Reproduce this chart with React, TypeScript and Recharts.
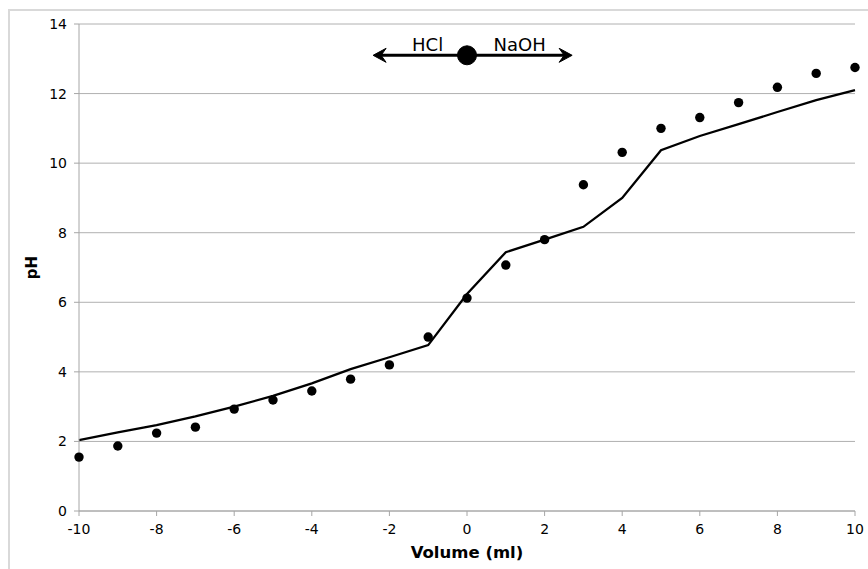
import React from "react";
import {
  ComposedChart,
  Line,
  Scatter,
  XAxis,
  YAxis,
  CartesianGrid,
  ReferenceLine,
  ReferenceDot,
} from "recharts";

const volumes = [-10, -9, -8, -7, -6, -5, -4, -3, -2, -1, 0, 1, 2, 3, 4, 5, 6, 7, 8, 9, 10];
const phMeasured = [1.55, 1.87, 2.24, 2.41, 2.93, 3.19, 3.45, 3.79, 4.2, 5.0, 6.12, 7.07, 7.8, 9.38, 10.31, 11.0, 11.31, 11.74, 12.18, 12.58, 12.75];
const phModel = [2.04, 2.26, 2.47, 2.72, 3.0, 3.31, 3.67, 4.08, 4.42, 4.77, 6.24, 7.44, 7.8, 8.17, 9.0, 10.37, 10.78, 11.12, 11.47, 11.81, 12.1];
const xTicks = [-10, -8, -6, -4, -2, 0, 2, 4, 6, 8, 10];
const yTicks = [0, 2, 4, 6, 8, 10, 12, 14];
const arrowY = 13.1;
const arrowLeft = -2.42;
const arrowRight = 2.71;

const data = volumes.map((v, i) => ({ v, measured: phMeasured[i], model: phModel[i] }));

const FONT = "'DejaVu Sans', Verdana, sans-serif";

const Dot = (props: any) => {
  const { cx, cy } = props;
  if (cx == null || cy == null) return null;
  return <circle cx={cx} cy={cy} r={4.7} fill="#000" />;
};

const ArrowShape = (props: any) => {
  const { x1, y1, x2 } = props;
  if (x1 == null) return null;
  const y = y1;
  const left = Math.min(x1, x2);
  const right = Math.max(x1, x2);
  const mid = (left + right) / 2;
  return (
    <g>
      <line x1={left + 4} y1={y} x2={right - 4} y2={y} stroke="#000" strokeWidth={3} />
      <path
        d={`M ${left} ${y} L ${left + 13} ${y - 7} L ${left + 8} ${y} L ${left + 13} ${y + 7} Z`}
        fill="#000"
        stroke="#000"
        strokeWidth={1}
        strokeLinejoin="miter"
      />
      <path
        d={`M ${right} ${y} L ${right - 13} ${y - 7} L ${right - 8} ${y} L ${right - 13} ${y + 7} Z`}
        fill="#000"
        stroke="#000"
        strokeWidth={1}
        strokeLinejoin="miter"
      />
      <text x={mid - 45} y={y - 4} textAnchor="middle" fontFamily={FONT} fontSize={18} fill="#000">
        HCl
      </text>
      <text x={mid + 47} y={y - 4} textAnchor="middle" fontFamily={FONT} fontSize={18} fill="#000">
        NaOH
      </text>
    </g>
  );
};

export default function App() {
  return (
    <div style={{ position: "absolute", left: 0, top: 0, width: 868, height: 569, background: "#fff", overflow: "hidden" }}>
      <div
        style={{
          position: "absolute",
          left: 8,
          top: 9,
          width: 880,
          height: 580,
          border: "2px solid #d9d9d9",
        }}
      />
      <div style={{ position: "absolute", left: 0, top: 0 }}>
        <ComposedChart
          width={868}
          height={569}
          data={data}
          margin={{ top: 24, right: 13, bottom: 0, left: 0 }}
        >
          <CartesianGrid horizontal={true} vertical={false} stroke="#b0b0b0" strokeWidth={1} />
          <XAxis
            dataKey="v"
            type="number"
            domain={[-10, 10]}
            ticks={xTicks}
            interval={0}
            height={58}
            stroke="#a6a6a6"
            tickSize={5}
            tickMargin={8}
            tick={{ fill: "#000", fontSize: 14, fontFamily: FONT }}
            label={{
              value: "Volume (ml)",
              position: "insideBottom",
              offset: 11,
              style: { fill: "#000", fontSize: 16.5, fontWeight: "bold", fontFamily: FONT },
            }}
          />
          <YAxis
            type="number"
            domain={[0, 14]}
            ticks={yTicks}
            interval={0}
            width={79}
            stroke="#a6a6a6"
            tickSize={5}
            tickMargin={7}
            tick={{ fill: "#000", fontSize: 14, fontFamily: FONT }}
            label={{
              value: "pH",
              angle: -90,
              position: "insideLeft",
              offset: 32,
              style: { fill: "#000", fontSize: 15, fontWeight: "bold", fontFamily: FONT, textAnchor: "middle" },
            }}
          />
          <Line
            dataKey="model"
            type="linear"
            stroke="#000"
            strokeWidth={2.3}
            dot={false}
            activeDot={false}
            isAnimationActive={false}
          />
          <Scatter dataKey="measured" shape={<Dot />} isAnimationActive={false} />
          <ReferenceLine
            segment={[
              { x: arrowLeft, y: arrowY },
              { x: arrowRight, y: arrowY },
            ]}
            shape={<ArrowShape />}
          />
          <ReferenceDot x={0} y={arrowY} r={9.5} fill="#000" stroke="#000" />
        </ComposedChart>
      </div>
    </div>
  );
}
